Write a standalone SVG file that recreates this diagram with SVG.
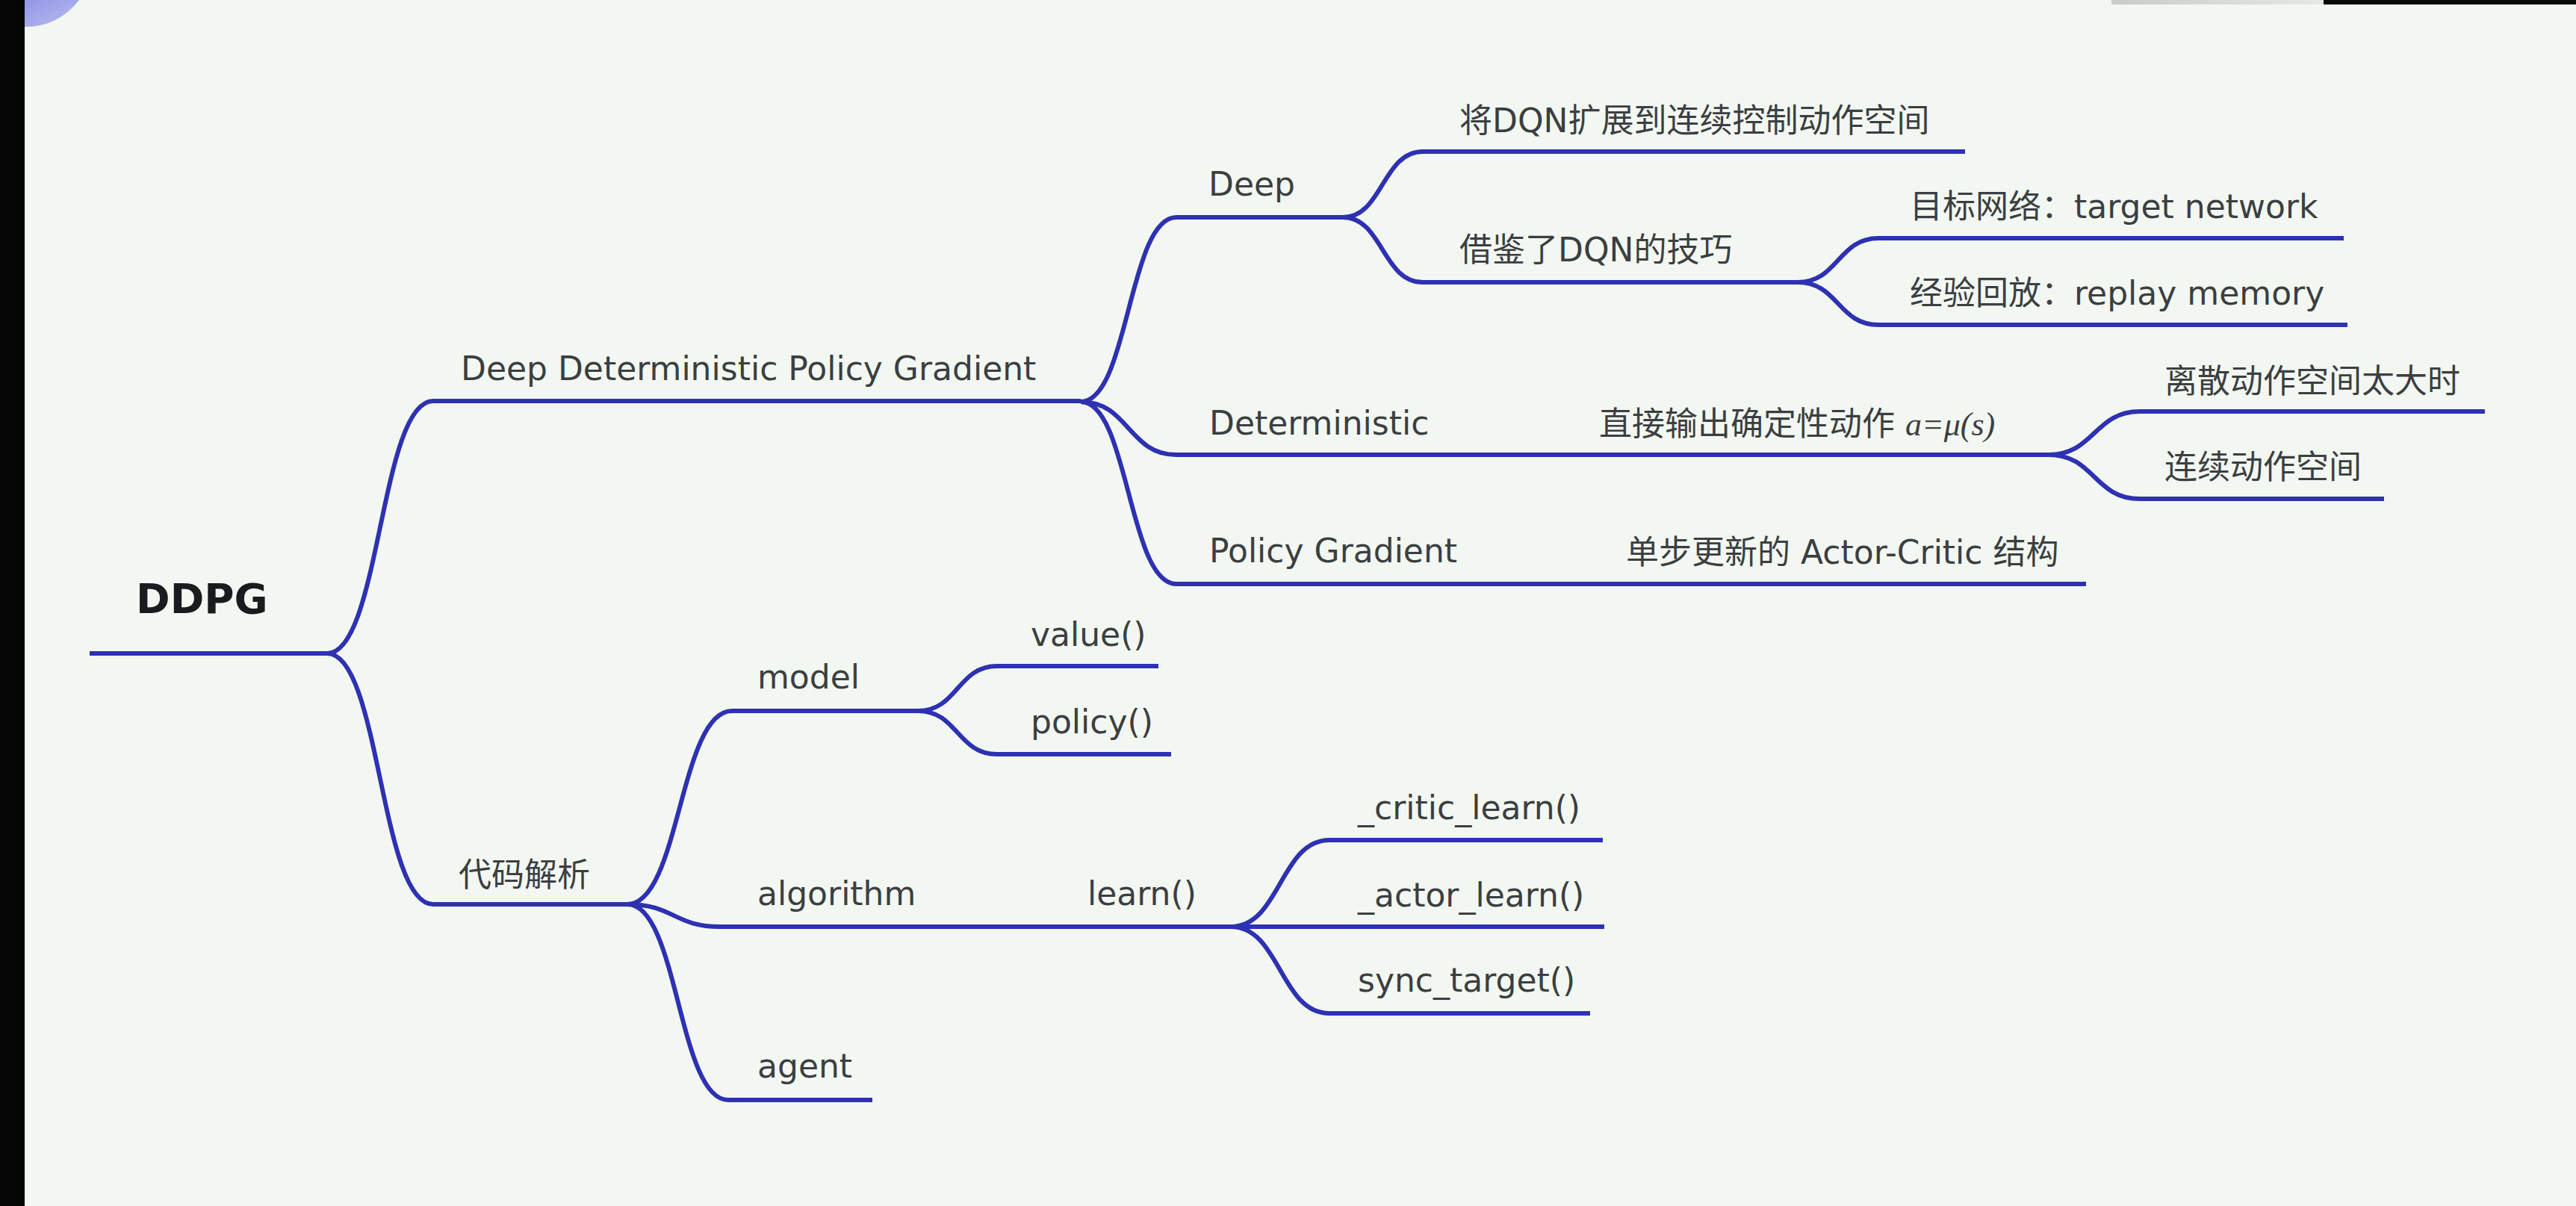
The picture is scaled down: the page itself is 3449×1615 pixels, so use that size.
<svg xmlns="http://www.w3.org/2000/svg" width="3449" height="1615" viewBox="0 0 3449 1615">
<defs>
<style>
.bg{fill:#f3f7f1}
.c{fill:none;stroke:#2d31b2;stroke-width:6;stroke-linecap:butt;stroke-linejoin:round}
.t{font-family:"DejaVu Sans","Noto Sans CJK SC",sans-serif;font-size:44px;fill:#3b3f42}
.root{font-family:"DejaVu Sans","Noto Sans CJK SC",sans-serif;font-size:55px;font-weight:bold;fill:#181c1e}
.m{font-family:"Liberation Serif",serif;font-style:italic}
</style>
<linearGradient id="corner" x1="0" y1="0" x2="1" y2="1">
<stop offset="0" stop-color="#9397e6"/>
<stop offset="1" stop-color="#b9bcef"/>
</linearGradient>
<linearGradient id="bar" x1="0" y1="0" x2="1" y2="0">
<stop offset="0" stop-color="#c9cbc6"/>
<stop offset="1" stop-color="#e6e8e3"/>
</linearGradient>
</defs>
<rect class="bg" x="0" y="0" width="3449" height="1615"/>
<g id="frame">
<rect x="0" y="0" width="33" height="1615" fill="#050505"/>
<path d="M33 0 L106 0 Q78 36 33 36 Z" fill="url(#corner)"/>
<rect x="2827" y="0" width="284" height="6" fill="url(#bar)"/>
<rect x="3111" y="0" width="338" height="6" fill="#0a0a0a"/>
</g>
<g id="connectors">
<path class="c" d="M120 875 L438 875"/>
<path class="c" d="M438 875 C509 875 509 537 580 537 L1447 537"/>
<path class="c" d="M438 875 C509 875 509 1211 580 1211 L840 1211"/>
<path class="c" d="M1447 538 C1511 538 1511 291 1575 291 L1798 291"/>
<path class="c" d="M1447 538 C1511 538 1511 609 1575 609 L2743 609"/>
<path class="c" d="M1447 538 C1511 538 1511 782 1575 782 L2793 782"/>
<path class="c" d="M1798 291 C1851 291 1851 203 1905 203 L2631 203"/>
<path class="c" d="M1798 291 C1851 291 1851 378 1905 378 L2407 378"/>
<path class="c" d="M2407 378 C2461 378 2461 319 2515 319 L3138 319"/>
<path class="c" d="M2407 378 C2461 378 2461 435 2515 435 L3143 435"/>
<path class="c" d="M2743 609 C2804 609 2804 551 2865 551 L3327 551"/>
<path class="c" d="M2743 609 C2804 609 2804 668 2865 668 L3192 668"/>
<path class="c" d="M840 1211 C910 1211 910 952 980 952 L1229 952"/>
<path class="c" d="M840 1211 C902 1211 902 1241 965 1241 L1648 1241"/>
<path class="c" d="M840 1211 C908 1211 908 1473 975 1473 L1168 1473"/>
<path class="c" d="M1229 952 C1282 952 1282 892 1335 892 L1551 892"/>
<path class="c" d="M1229 952 C1282 952 1282 1010 1335 1010 L1568 1010"/>
<path class="c" d="M1648 1241 C1714 1241 1714 1125 1780 1125 L2146 1125"/>
<path class="c" d="M1648 1241 L2148 1241"/>
<path class="c" d="M1648 1241 C1714 1241 1714 1357 1780 1357 L2129 1357"/>
</g>
<g id="node-ddpg"><text class="root" x="182" y="821">DDPG</text></g>
<g id="node-dpg"><text class="t" x="617" y="509">Deep Deterministic Policy Gradient</text></g>
<g id="node-code"><text class="t" x="614" y="1187">代码解析</text></g>
<g id="node-deep"><text class="t" x="1618" y="262">Deep</text></g>
<g id="node-deterministic"><text class="t" x="1619" y="582">Deterministic</text></g>
<g id="node-pg"><text class="t" x="1619" y="753">Policy Gradient</text></g>
<g id="node-extend"><text class="t" x="1954" y="177">将DQN扩展到连续控制动作空间</text></g>
<g id="node-borrow"><text class="t" x="1954" y="350">借鉴了DQN的技巧</text></g>
<g id="node-target"><text class="t" x="2557" y="292">目标网络：target network</text></g>
<g id="node-replay"><text class="t" x="2557" y="408">经验回放：replay memory</text></g>
<g id="node-direct"><text class="t" x="2141" y="583">直接输出确定性动作 <tspan class="m">a</tspan><tspan class="m">=</tspan><tspan class="m">μ</tspan><tspan class="m">(</tspan><tspan class="m">s</tspan><tspan class="m">)</tspan></text></g>
<g id="node-discrete"><text class="t" x="2898" y="526">离散动作空间太大时</text></g>
<g id="node-continuous"><text class="t" x="2898" y="641">连续动作空间</text></g>
<g id="node-ac"><text class="t" x="2177" y="755">单步更新的 Actor-Critic 结构</text></g>
<g id="node-model"><text class="t" x="1014" y="922">model</text></g>
<g id="node-value"><text class="t" x="1380" y="865">value()</text></g>
<g id="node-policy"><text class="t" x="1380" y="982">policy()</text></g>
<g id="node-algorithm"><text class="t" x="1014" y="1212">algorithm</text></g>
<g id="node-learn"><text class="t" x="1456" y="1212">learn()</text></g>
<g id="node-critic"><text class="t" x="1818" y="1097">_critic_learn()</text></g>
<g id="node-actor"><text class="t" x="1818" y="1214">_actor_learn()</text></g>
<g id="node-sync"><text class="t" x="1818" y="1328">sync_target()</text></g>
<g id="node-agent"><text class="t" x="1014" y="1443">agent</text></g>
</svg>
